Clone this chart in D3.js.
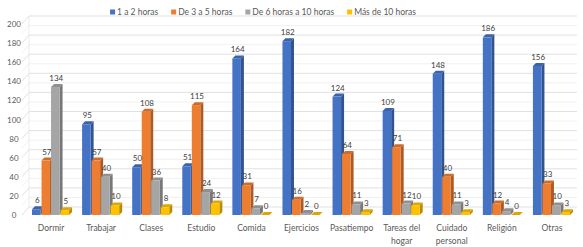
<!DOCTYPE html>
<html>
<head>
<meta charset="utf-8">
<script src="https://cdn.jsdelivr.net/npm/d3@7"></script>
<style>
  body { margin: 0; background: #fff; }
  svg { display: block; font-family: Lato, "Open Sans", sans-serif; }
  text { fill: #595959; }
</style>
</head>
<body>
<div id="chart"></div>
<script>
// data
const categories = ["Dormir", "Trabajar", "Clases", "Estudio", "Comida", "Ejercicios",
    "Pasatiempo", "Tareas del hogar", "Cuidado personal", "Religión", "Otras"];
const series = ["1 a 2 horas", "De 3 a 5 horas", "De 6 horas a 10 horas", "Más de 10 horas"];
const s1 = [6, 95, 50, 51, 164, 182, 124, 109, 148, 186, 156];
const s2 = [57, 57, 108, 115, 31, 16, 64, 71, 40, 12, 33];
const s3 = [134, 40, 36, 24, 7, 2, 11, 12, 11, 4, 10];
const s4 = [5, 10, 8, 12, 0, 0, 3, 10, 3, 0, 3];
const colors = ["#4472C4", "#ED7D31", "#A5A5A5", "#FFC000"];
const yTicks = d3.range(0, 201, 20);

const values = [s1, s2, s3, s4];
const W = 583, H = 247;

const svg = d3.select("#chart").append("svg")
    .attr("width", W).attr("height", H);

const x0 = d3.scaleBand().domain(categories).range([26, 577])
    .paddingInner(0.24).paddingOuter(0.12);
const x1 = d3.scaleBand().domain(series).range([0, x0.bandwidth()]);
const y = d3.scaleLinear().domain([0, 200]).range([215, 24]);

// wall depth
const wx = 7, wy = 8;
const left = 22, right = 577;

// minor lines (faint)
d3.range(10, 200, 20).forEach(v => {
    svg.append("path")
        .attr("d", `M${left},${y(v)}L${left + wx},${y(v) - wy}H${right}`)
        .attr("fill", "none").attr("stroke", "#eeeeee").attr("stroke-width", 0.8);
});
// major gridlines on side wall + back wall
yTicks.forEach(v => {
    svg.append("path")
        .attr("d", `M${left},${y(v)}L${left + wx},${y(v) - wy}H${right}`)
        .attr("fill", "none").attr("stroke", "#d9d9d9").attr("stroke-width", 0.8);
});
// left edge of back wall
svg.append("line")
    .attr("x1", left + wx).attr("x2", left + wx)
    .attr("y1", y(0) - wy).attr("y2", y(200) - wy)
    .attr("stroke", "#e6e6e6").attr("stroke-width", 0.8);

// y axis labels
svg.selectAll(".ytick").data(yTicks).join("text")
    .attr("class", "ytick")
    .attr("x", 14).attr("y", d => y(d) + 3)
    .attr("text-anchor", "middle")
    .style("font-size", "8px")
    .text(d => d);

// bars
const d = 3; // bar depth
const barW = x1.bandwidth() - 1;
const labels = [];
categories.forEach((c, ci) => {
    series.forEach((s, si) => {
        const v = values[si][ci];
        const bx = x0(c) + x1(s);
        const top = y(v), base = y(0);
        const col = d3.color(colors[si]);
        const g = svg.append("g");
        // side
        g.append("path")
            .attr("d", `M${bx + barW},${top}L${bx + barW + d},${top - d}L${bx + barW + d},${base - d}L${bx + barW},${base}Z`)
            .attr("fill", col.darker(0.9));
        // top
        g.append("path")
            .attr("d", `M${bx},${top}L${bx + d},${top - d}L${bx + barW + d},${top - d}L${bx + barW},${top}Z`)
            .attr("fill", col.darker(0.4));
        // front
        g.append("rect")
            .attr("x", bx).attr("y", top)
            .attr("width", barW).attr("height", base - top)
            .attr("fill", col);
        labels.push({ x: bx + barW / 2 + 1, y: top - 6, v });
    });
});

// value labels on top of everything
svg.selectAll(".vlabel").data(labels).join("text")
    .attr("class", "vlabel")
    .attr("x", l => l.x)
    .attr("y", l => l.y)
    .attr("text-anchor", "middle")
    .style("font-size", "8px")
    .style("fill", "#404040")
    .text(l => l.v);

// category labels
categories.forEach(c => {
    const words = c.split(" ");
    const lines = words.length > 2 ? [words.slice(0, 2).join(" "), words.slice(2).join(" ")]
        : words.length === 2 && c.length > 12 ? words : [c];
    const t = svg.append("text")
        .attr("x", x0(c) + x0.bandwidth() / 2)
        .attr("y", 231)
        .attr("text-anchor", "middle")
        .style("font-size", "8.5px");
    lines.forEach((l, i) => {
        t.append("tspan")
            .attr("x", x0(c) + x0.bandwidth() / 2)
            .attr("dy", i === 0 ? 0 : 12.5)
            .text(l);
    });
});

// legend: laid out one after another, centred
const legend = svg.append("g");
let lx = 0;
series.forEach((s, i) => {
    legend.append("rect")
        .attr("x", lx).attr("y", 9.5)
        .attr("width", 5).attr("height", 5)
        .attr("fill", colors[i]);
    const t = legend.append("text")
        .attr("x", lx + 7).attr("y", 15)
        .style("font-size", "8.5px")
        .text(s);
    lx += 7 + t.node().getComputedTextLength() + 13;
});
lx -= 13;
legend.attr("transform", `translate(${263 - lx / 2},0)`);
</script>
</body>
</html>
